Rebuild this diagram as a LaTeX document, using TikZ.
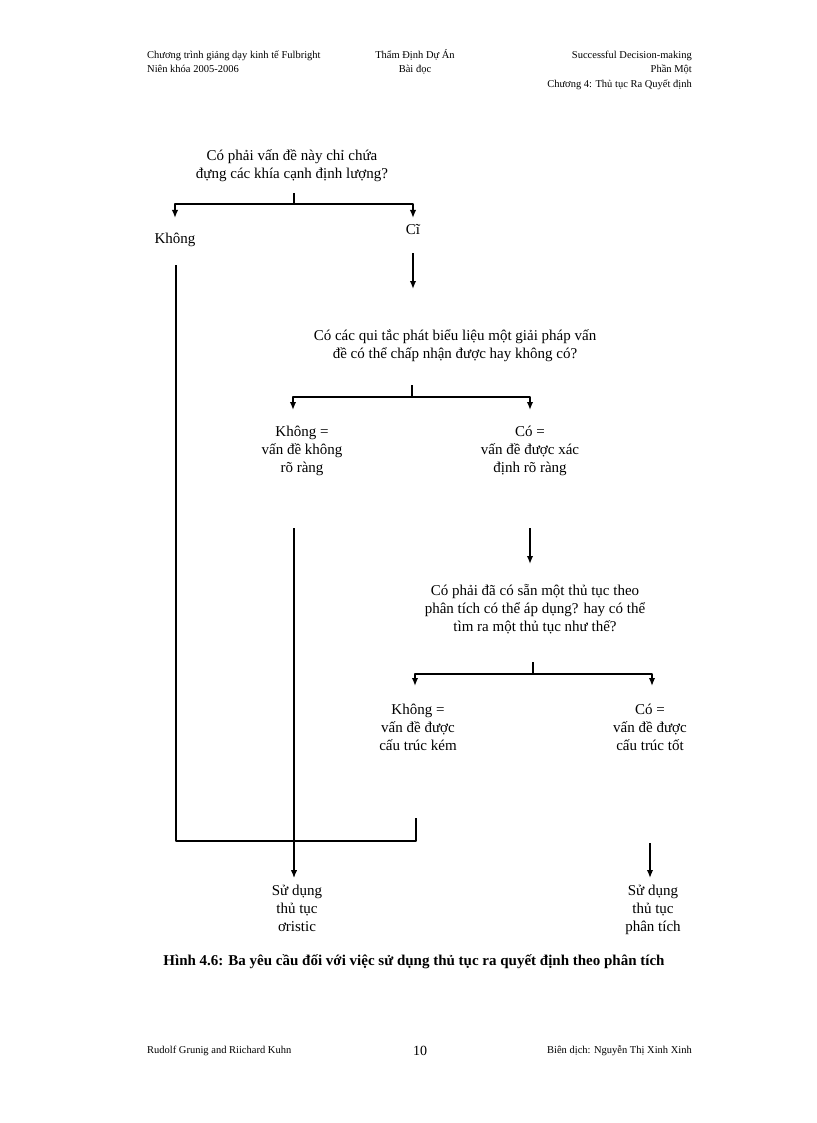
\documentclass[tikz,border=0pt]{standalone}
\usepackage{fontspec}
\setmainfont{Liberation Serif}
\usetikzlibrary{arrows.meta}
\begin{document}
\begin{tikzpicture}[x=1pt,y=-1pt,line join=round,>={Latex[length=8pt,width=6.5pt]},
	box/.style={align=center,font=\fontsize{15}{18}\selectfont,inner sep=0pt},
	head/.style={font=\fontsize{10.5}{13}\selectfont,inner sep=0pt},
	link/.style={line width=1.6pt},
	rail/.style={line width=1.3pt}]
	\tikzset{every node/.style={scale=1}}
	\useasboundingbox (0,0) rectangle (816,1123);
	% header and footer
	\node[head,anchor=base west] (h1) at (147,59) {Chương trình giảng dạy kinh tế Fulbright};
	\node[head,anchor=base west] (h2) at (147,73) {Niên khóa 2005-2006};
	\node[head,anchor=base] (h3) at (415,59) {Thẩm Định Dự Án};
	\node[head,anchor=base] (h4) at (415,73) {Bài đọc};
	\node[head,anchor=base east] (h5) at (692,59) {Successful Decision-making};
	\node[head,anchor=base east] (h6) at (692,73) {Phần Một};
	\node[head,anchor=base east] (h7) at (692,88) {Chương 4: Thủ tục Ra Quyết định};
	\node[head,anchor=base west] (f1) at (147,1053) {Rudolf Grunig and Riichard Kuhn};
	\node[head,anchor=base,font=\fontsize{14}{16}\selectfont] (f2) at (420,1055) {10};
	\node[head,anchor=base east] (f3) at (692,1053) {Biên dịch: Nguyễn Thị Xinh Xinh};
	% questions and answers
	\node[box] (q1) at (292,166) {Có phải vấn đề này chỉ chứa\\đựng các khía cạnh định lượng?};
	\node[box] (no1) at (175,240) {Không};
	\node[box] (yes1) at (413,230) {Cĩ};
	\node[box] (q2) at (455,346) {Có các qui tắc phát biểu liệu một giải pháp vấn\\đề có thể chấp nhận được hay không có?};
	\node[box] (no2) at (302,451) {Không =\\vấn đề không\\rõ ràng};
	\node[box] (yes2) at (530,451) {Có =\\vấn đề được xác\\định rõ ràng};
	\node[box] (q3) at (535,609) {Có phải đã có sẵn một thủ tục theo\\phân tích có thể áp dụng? hay có thể\\tìm ra một thủ tục như thế?};
	\node[box] (no3) at (418,727) {Không =\\vấn đề được\\cấu trúc kém};
	\node[box] (yes3) at (650,727) {Có =\\vấn đề được\\cấu trúc tốt};
	\node[box,anchor=north] (use1) at (297,885) {Sử dụng\\thủ tục\\ơristic};
	\node[box,anchor=north] (use2) at (653,885) {Sử dụng\\thủ tục\\phân tích};
	\node[box,font=\fontsize{15}{18}\selectfont\bfseries] (cap) at (414,962) {Hình 4.6: Ba yêu cầu đối với việc sử dụng thủ tục ra quyết định theo phân tích};
	% branch points
	\coordinate (q1u) at (294,193); \coordinate (q1j) at (294,204);
	\coordinate (q1l) at (175,218); \coordinate (q1r) at (413,218);
	\coordinate (q2u) at (412,385); \coordinate (q2j) at (412,397);
	\coordinate (q2l) at (293,410); \coordinate (q2r) at (530,410);
	\coordinate (q3u) at (533,662); \coordinate (q3j) at (533,674);
	\coordinate (q3l) at (415,686); \coordinate (q3r) at (652,686);
	\draw[link] (q1u) -- (q1j); \draw[link,->] (q1j) -| (q1l); \draw[link,->] (q1j) -| (q1r);
	\draw[link] (q2u) -- (q2j); \draw[link,->] (q2j) -| (q2l); \draw[link,->] (q2j) -| (q2r);
	\draw[link] (q3u) -- (q3j); \draw[link,->] (q3j) -| (q3l); \draw[link,->] (q3j) -| (q3r);
	% flows down
	\coordinate (y1a) at (413,253); \coordinate (y1b) at (413,289);
	\coordinate (y2a) at (530,528); \coordinate (y2b) at (530,564);
	\coordinate (n1a) at (176,265); \coordinate (n3a) at (416,818); \coordinate (mj) at (416,841);
	\coordinate (n2a) at (294,528); \coordinate (n2b) at (294,878);
	\coordinate (y3a) at (650,843); \coordinate (y3b) at (650,878);
	\draw[link,->] (y1a) -- (y1b);
	\draw[link,->] (y2a) -- (y2b);
	\draw[rail] (n1a) |- (mj) -- (n3a);
	\draw[rail,->] (n2a) -- (n2b);
	\draw[link,->] (y3a) -- (y3b);
\end{tikzpicture}
\end{document}
